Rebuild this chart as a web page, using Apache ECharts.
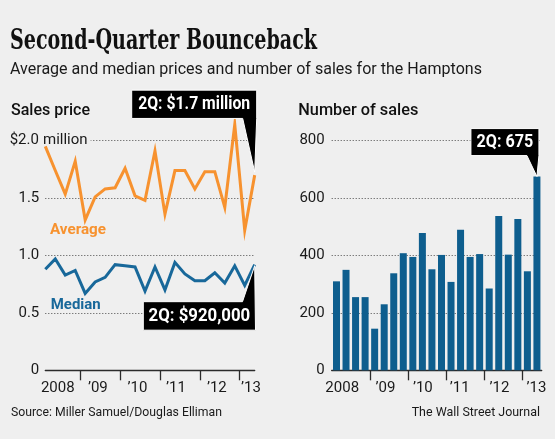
<!DOCTYPE html>
<html>
<head>
<meta charset="utf-8">
<script src="https://cdn.jsdelivr.net/npm/echarts@6/dist/echarts.min.js"></script>
<style>
html,body{margin:0;padding:0;background:#efefef;}
#chart{width:555px;height:439px;}
</style>
</head>
<body>
<div id="chart"></div>
<script>
// ---- data ----
const quarters = ['2008 Q1','2008 Q2','2008 Q3','2008 Q4','2009 Q1','2009 Q2','2009 Q3','2009 Q4',
  '2010 Q1','2010 Q2','2010 Q3','2010 Q4','2011 Q1','2011 Q2','2011 Q3','2011 Q4',
  '2012 Q1','2012 Q2','2012 Q3','2012 Q4','2013 Q1','2013 Q2'];
const averagePrice = [1.95, 1.74, 1.535, 1.82, 1.31, 1.51, 1.58, 1.59, 1.76, 1.52, 1.48, 1.91,
  1.36, 1.74, 1.74, 1.58, 1.73, 1.73, 1.42, 2.14, 1.22, 1.70];
const medianPrice = [0.88, 0.97, 0.83, 0.87, 0.67, 0.77, 0.81, 0.92, 0.91, 0.90, 0.69, 0.90,
  0.70, 0.94, 0.84, 0.78, 0.78, 0.85, 0.76, 0.91, 0.74, 0.92];
const salesCount = [310, 350, 255, 255, 145, 230, 338, 408, 395, 478, 352, 402,
  308, 490, 395, 405, 285, 538, 403, 527, 345, 675];
const yearLabels = ['2008', '\u201909', '\u201910', '\u201911', '\u201912', '\u201913'];
const quartersPerYear = [4, 4, 4, 4, 4, 2];
const priceTicks = [0, 0.5, 1.0, 1.5, 2.0];
const salesTicks = [0, 200, 400, 600, 800];

// ---- layout (presentation only) ----
const BG = '#efefef';
const ORANGE = '#f7922f';
const BLUE_LINE = '#18689a';
const BLUE_BAR = '#0e5e8e';
const INK = '#1a1a1a';
const AXIS = '#2b2b2b';
const SANS = 'Roboto, "Liberation Sans", sans-serif';
// label centre offsets (in quarter units) from each year's first quarter
const leftLabelShift = [1.25, 1.27, 1.25, 1.1, 1.2, 0.63];
const rightLabelShift = [0.6, 1.13, 1.05, 0.92, 1.07, 0.96];

// year boundaries derived from quarters per year
const yearStart = [];
{ let c = 0; quartersPerYear.forEach(n => { yearStart.push(c); c += n; }); }
const boundaries = yearStart.slice(1).map(s => s - 0.5);
const leftLabelPos = yearStart.map((s, k) => s + leftLabelShift[k]);
const rightLabelPos = yearStart.map((s, k) => s + rightLabelShift[k]);
function yearFmt(pos) {
  return v => {
    let best = 0;
    pos.forEach((p, k) => { if (Math.abs(p - v) < Math.abs(pos[best] - v)) best = k; });
    return yearLabels[best];
  };
}

const dotted = { color: '#4a4a4a', width: 1, type: [1, 2] };
const axisLineStyle = { color: AXIS, width: 1.3 };

const chart = echarts.init(document.getElementById('chart'), null, { renderer: 'canvas' });

const option = {
  animation: false,
  backgroundColor: BG,
  grid: [
    { left: 45.3, top: 140.7, width: 209.4, height: 229.6 },
    { left: 331.7, top: 140.7, width: 210, height: 229.6 }
  ],
  xAxis: [
    {
      gridIndex: 0, type: 'value', min: 0, max: quarters.length - 1,
      axisLine: { show: true, lineStyle: axisLineStyle },
      axisTick: { show: true, customValues: boundaries, length: 10, lineStyle: axisLineStyle },
      axisLabel: { customValues: leftLabelPos, formatter: yearFmt(leftLabelPos), color: INK,
        fontFamily: SANS, fontSize: 15, margin: 10.5 },
      splitLine: { show: false }
    },
    {
      gridIndex: 1, type: 'value', min: -0.5, max: quarters.length - 0.5,
      axisLine: { show: true, lineStyle: axisLineStyle },
      axisTick: { show: true, customValues: boundaries, length: 10, lineStyle: axisLineStyle },
      axisLabel: { customValues: rightLabelPos, formatter: yearFmt(rightLabelPos), color: INK,
        fontFamily: SANS, fontSize: 15, margin: 10.5 },
      splitLine: { show: false }
    }
  ],
  yAxis: [
    {
      gridIndex: 0, type: 'value', position: 'left', min: priceTicks[0], max: priceTicks[priceTicks.length - 1],
      interval: priceTicks[1] - priceTicks[0], z: 0,
      axisLine: { show: false }, axisTick: { show: false }, axisLabel: { show: false },
      splitLine: { show: true, lineStyle: dotted }
    },
    {
      gridIndex: 0, type: 'value', position: 'left', min: priceTicks[0], max: priceTicks[priceTicks.length - 1],
      interval: priceTicks[1] - priceTicks[0], z: 1,
      axisLine: { show: false }, axisTick: { show: false }, splitLine: { show: false },
      axisLabel: {
        align: 'left', margin: 36, color: INK, fontFamily: SANS, fontSize: 15,
        formatter: v => {
          if (v === priceTicks[priceTicks.length - 1]) return '{a|$' + v.toFixed(1) + '}{m| million}';
          if (v === 0) return '{a|0}';
          return '{a|' + v.toFixed(1) + '}';
        },
        rich: {
          a: { width: 30, align: 'right', fontFamily: SANS, fontSize: 15, color: INK },
          m: { fontFamily: SANS, fontSize: 15, color: INK, backgroundColor: BG, lineHeight: 9, padding: [0, 3, 0, 0] }
        }
      }
    },
    {
      gridIndex: 1, type: 'value', min: salesTicks[0], max: salesTicks[salesTicks.length - 1],
      interval: salesTicks[1] - salesTicks[0],
      axisLine: { show: false }, axisTick: { show: false },
      axisLabel: { color: INK, fontFamily: SANS, fontSize: 15, margin: 7 },
      splitLine: { show: true, lineStyle: dotted }
    }
  ],
  series: [
    {
      name: 'Average', type: 'line', xAxisIndex: 0, yAxisIndex: 0, clip: false,
      data: averagePrice.map((v, i) => [i, v]), showSymbol: false, symbol: 'none',
      lineStyle: { color: ORANGE, width: 3, join: 'miter' }, z: 3
    },
    {
      name: 'Median', type: 'line', xAxisIndex: 0, yAxisIndex: 0, clip: false,
      data: medianPrice.map((v, i) => [i, v]), showSymbol: false, symbol: 'none',
      lineStyle: { color: BLUE_LINE, width: 3, join: 'miter' }, z: 3
    },
    {
      name: 'Sales', type: 'bar', xAxisIndex: 1, yAxisIndex: 2,
      data: salesCount.map((v, i) => [i, v]), barWidth: 7,
      itemStyle: { color: BLUE_BAR }
    }
  ]
};
chart.setOption(option);

// ---- text helpers ----
const mctx = document.createElement('canvas').getContext('2d');
function measure(str, font) { mctx.font = font; return mctx.measureText(str).width; }
function text(str, x, y, font, fill, targetW, align) {
  const s = targetW ? targetW / measure(str, font) : 1;
  return {
    type: 'text', x: x, y: y, scaleX: s, z: 10,
    style: { text: str, font: font, fill: fill, textAlign: align || 'left', align: align || 'left',
      textVerticalAlign: 'middle', verticalAlign: 'middle' }
  };
}
function callout(str, box, pts, targetW) {
  const [L, T, R, B] = box;
  return [
    { type: 'polygon', z: 20, shape: { points: pts }, style: { fill: '#000', stroke: '#ffffff', lineWidth: 1 } },
    Object.assign(text(str, (L + R) / 2 - targetW / 2, (T + B) / 2 + 0.5, 'bold 18px ' + SANS, '#fff', targetW), { z: 21 })
  ];
}

const last = quarters.length - 1;
const pa = chart.convertToPixel({ xAxisIndex: 0, yAxisIndex: 0 }, [last, averagePrice[last]]);
const pm = chart.convertToPixel({ xAxisIndex: 0, yAxisIndex: 0 }, [last, medianPrice[last]]);
const pb = chart.convertToPixel({ xAxisIndex: 1, yAxisIndex: 2 }, [last, salesCount[last]]);

// average callout
const aBox = [pa[0] - 123, pa[1] - 85, pa[0] + 2, pa[1] - 56.7];
const aPts = [[aBox[0], aBox[1]], [aBox[2], aBox[1]], [aBox[2], aBox[3]], [pa[0], pa[1] - 3], [aBox[2] - 14, aBox[3]], [aBox[0], aBox[3]]];
// median callout
const mBox = [pm[0] - 111.4, pm[1] + 37, pm[0] + 0.8, pm[1] + 65.5];
const mPts = [[mBox[0], mBox[1]], [mBox[2] - 13, mBox[1]], [pm[0], pm[1] + 1], [mBox[2], mBox[3]], [mBox[0], mBox[3]]];
// sales callout
const sBox = [pb[0] - 66, pb[1] - 48, pb[0] + 2, pb[1] - 21];
const sPts = [[sBox[0], sBox[1]], [sBox[2], sBox[1]], [sBox[2], sBox[3]], [pb[0], pb[1]], [sBox[2] - 12, sBox[3]], [sBox[0], sBox[3]]];

const g = [
  text('Second-Quarter Bounceback', 10, 42, 'bold 28px "DejaVu Serif", serif', '#111', 307),
  text('Average and median prices and number of sales for the Hamptons', 10, 70, '17px ' + SANS, '#1a1a1a', 472),
  text('Sales price', 11, 111, '500 16px ' + SANS, '#111', 79),
  text('Number of sales', 298.3, 111, '500 16px ' + SANS, '#111', 120),
  text('Average', 50, 230, 'bold 15px ' + SANS, ORANGE, 56),
  text('Median', 50.7, 305, 'bold 15px ' + SANS, BLUE_LINE, 50),
  text('Source: Miller Samuel/Douglas Elliman', 11, 412.5, '13px ' + SANS, '#1a1a1a', 211),
  text('The Wall Street Journal', 411.7, 412.5, '13px ' + SANS, '#1a1a1a', 128.3)
].concat(
  callout('2Q: $1.7 million', aBox, aPts, 112),
  callout('2Q: $920,000', mBox, mPts, 101.7),
  callout('2Q: 675', sBox, sPts, 56.7)
);
chart.setOption({ graphic: g });
</script>
</body>
</html>
